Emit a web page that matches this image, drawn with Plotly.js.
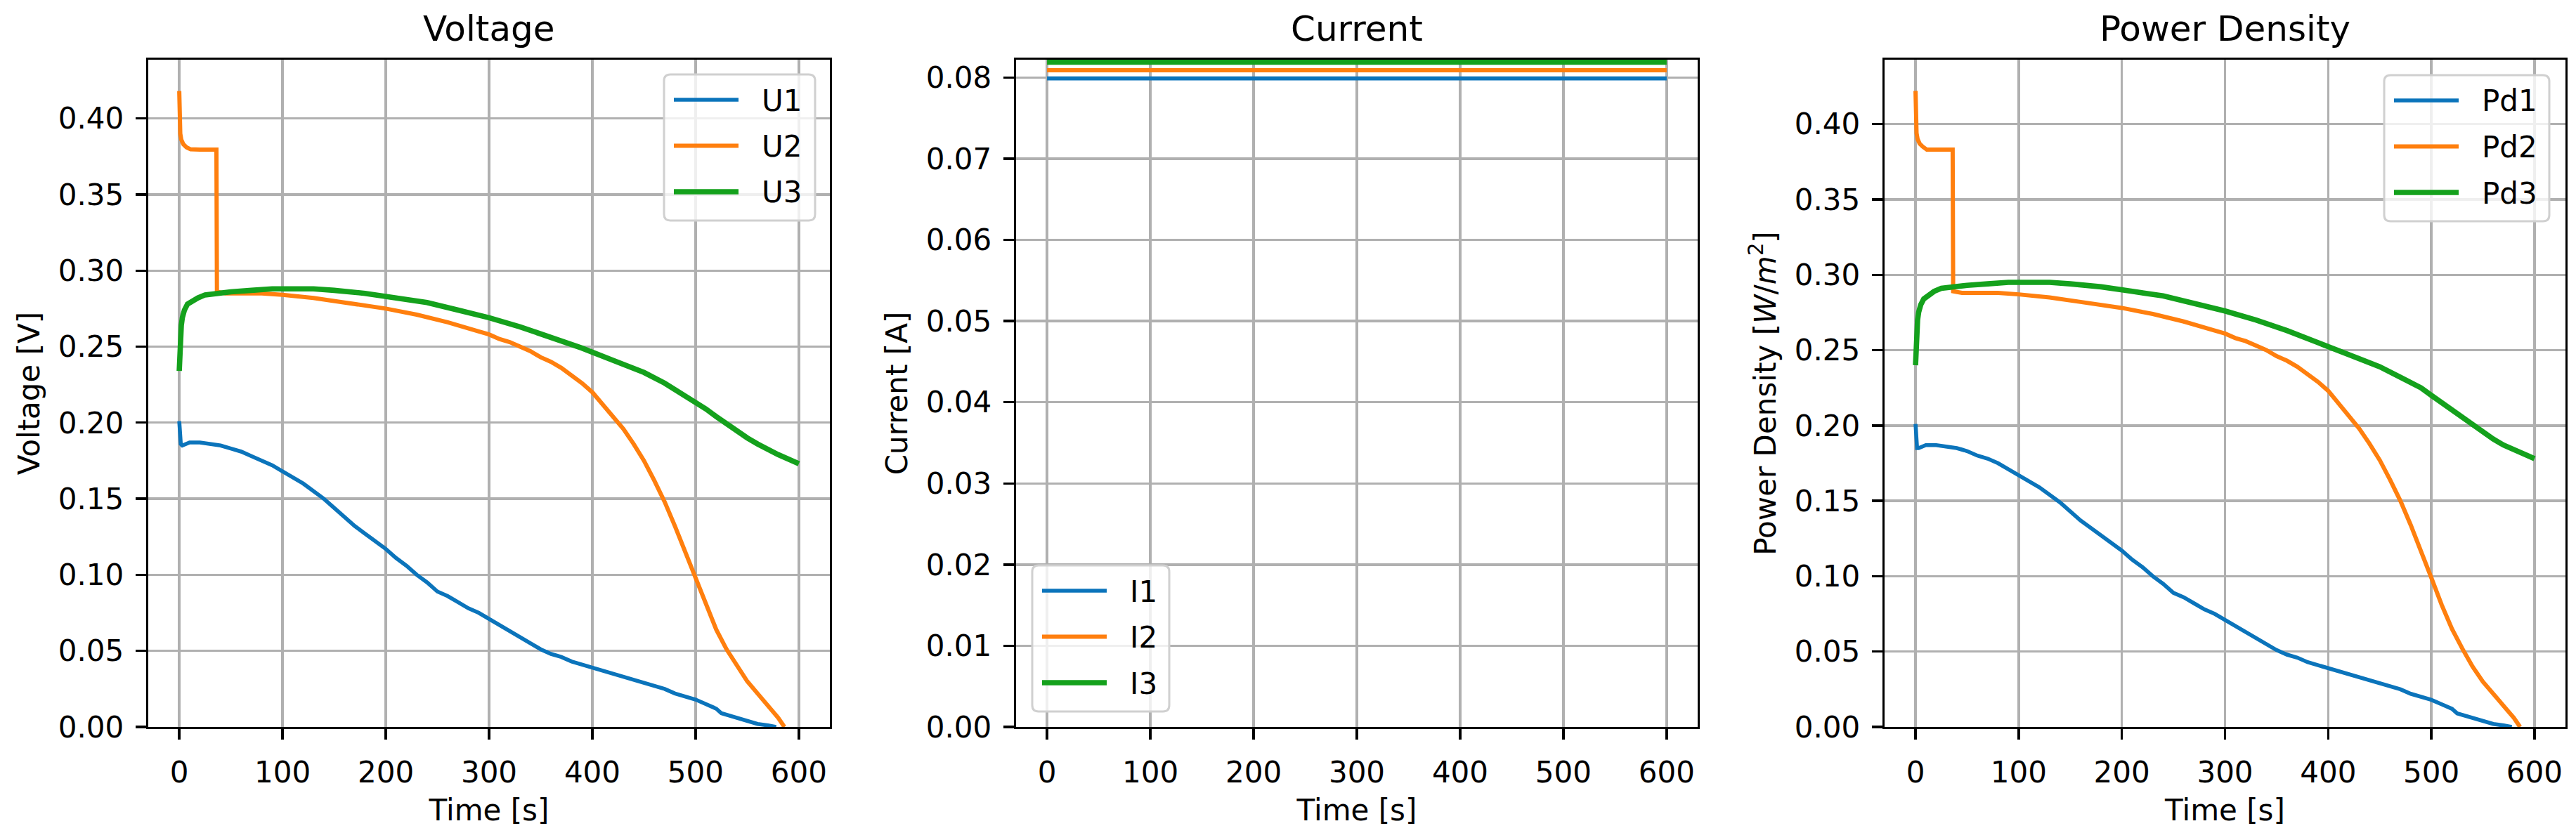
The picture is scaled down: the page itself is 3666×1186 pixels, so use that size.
<!DOCTYPE html>
<html>
<head>
<meta charset="utf-8">
<script src="https://cdn.plot.ly/plotly-3.0.1.min.js"></script>
<style>html,body{margin:0;padding:0;background:#fff;}#chart{width:3666px;height:1186px;}</style>
</head>
<body>
<div id="chart"></div>
<script>
// ---------------- data ----------------
const tU1 = [0, 0.5, 1.5, 3, 6, 10, 20, 30, 40, 50, 60, 70, 80, 90, 100, 110, 120, 130, 140, 150, 160, 170, 180, 190, 200, 210, 220, 230, 240, 250, 260, 270, 280, 290, 300, 310, 320, 330, 340, 350, 360, 370, 380, 390, 400, 410, 420, 430, 440, 450, 460, 470, 480, 490, 500, 510, 520, 525, 530, 540, 550, 560, 570, 578];
const U1  = [0.201, 0.195, 0.186, 0.185, 0.186, 0.187, 0.187, 0.186, 0.185, 0.183, 0.181, 0.178, 0.175, 0.172, 0.168, 0.164, 0.160, 0.155, 0.150, 0.144, 0.138, 0.132, 0.127, 0.122, 0.117, 0.111, 0.106, 0.100, 0.095, 0.089, 0.086, 0.082, 0.078, 0.075, 0.071, 0.067, 0.063, 0.059, 0.055, 0.051, 0.048, 0.046, 0.043, 0.041, 0.039, 0.037, 0.035, 0.033, 0.031, 0.029, 0.027, 0.025, 0.022, 0.020, 0.018, 0.015, 0.012, 0.009, 0.008, 0.006, 0.004, 0.002, 0.001, 0.000];

const tU2 = [0, 0.5, 1, 2, 4, 7, 11, 20, 36, 36.5, 45, 60, 80, 100, 130, 160, 200, 230, 260, 290, 300, 310, 320, 330, 340, 350, 360, 370, 380, 390, 400, 410, 420, 430, 440, 450, 460, 470, 480, 490, 500, 510, 520, 530, 540, 550, 560, 570, 580, 586];
const U2  = [0.418, 0.395, 0.390, 0.386, 0.383, 0.381, 0.3797, 0.3795, 0.3795, 0.286, 0.285, 0.285, 0.285, 0.284, 0.282, 0.279, 0.275, 0.271, 0.266, 0.260, 0.258, 0.255, 0.253, 0.250, 0.247, 0.243, 0.240, 0.236, 0.231, 0.226, 0.220, 0.212, 0.204, 0.196, 0.186, 0.175, 0.162, 0.148, 0.132, 0.115, 0.098, 0.080, 0.064, 0.051, 0.040, 0.030, 0.022, 0.014, 0.006, 0.000];

const tU3 = [0, 0.5, 1, 2, 3, 5, 8, 12, 18, 25, 35, 50, 70, 90, 110, 130, 150, 180, 210, 240, 270, 300, 330, 360, 390, 420, 450, 470, 490, 500, 510, 520, 530, 540, 550, 560, 570, 580, 590, 600];
const U3  = [0.234, 0.248, 0.256, 0.264, 0.269, 0.274, 0.278, 0.280, 0.282, 0.284, 0.285, 0.286, 0.287, 0.288, 0.288, 0.288, 0.287, 0.285, 0.282, 0.279, 0.274, 0.269, 0.263, 0.256, 0.249, 0.241, 0.233, 0.226, 0.218, 0.214, 0.209, 0.204, 0.199, 0.194, 0.190, 0.186, 0.182, 0.179, 0.176, 0.173];

const tI = [0, 100, 200, 300, 400, 500, 600];
const I1 = [0.0799, 0.0799, 0.0799, 0.0799, 0.0799, 0.0799, 0.0799];
const I2 = [0.0809, 0.0809, 0.0809, 0.0809, 0.0809, 0.0809, 0.0809];
const I3 = [0.0819, 0.0819, 0.0819, 0.0819, 0.0819, 0.0819, 0.0819];

const tP1 = [0, 0.5, 1.5, 3, 6, 10, 20, 30, 40, 50, 60, 70, 80, 90, 100, 110, 120, 130, 140, 150, 160, 170, 180, 190, 200, 210, 220, 230, 240, 250, 260, 270, 280, 290, 300, 310, 320, 330, 340, 350, 360, 370, 380, 390, 400, 410, 420, 430, 440, 450, 460, 470, 480, 490, 500, 510, 520, 525, 530, 540, 550, 560, 570, 578];
const Pd1 = [0.201, 0.194, 0.185, 0.185, 0.186, 0.187, 0.187, 0.186, 0.185, 0.183, 0.180, 0.178, 0.175, 0.171, 0.167, 0.163, 0.159, 0.154, 0.149, 0.143, 0.137, 0.132, 0.127, 0.122, 0.117, 0.111, 0.106, 0.100, 0.095, 0.089, 0.086, 0.082, 0.078, 0.075, 0.071, 0.067, 0.063, 0.059, 0.055, 0.051, 0.048, 0.046, 0.043, 0.041, 0.039, 0.037, 0.035, 0.033, 0.031, 0.029, 0.027, 0.025, 0.022, 0.020, 0.018, 0.015, 0.012, 0.009, 0.008, 0.006, 0.004, 0.002, 0.001, 0.000];

const tP2 = [0, 0.5, 1, 2, 4, 7, 11, 20, 36, 36.5, 45, 60, 80, 100, 130, 160, 200, 230, 260, 290, 300, 310, 320, 330, 340, 350, 360, 370, 380, 390, 400, 410, 420, 430, 440, 450, 460, 470, 480, 490, 500, 510, 520, 530, 540, 550, 560, 570, 580, 586];
const Pd2 = [0.422, 0.400, 0.394, 0.390, 0.387, 0.385, 0.383, 0.383, 0.383, 0.289, 0.288, 0.288, 0.288, 0.287, 0.285, 0.282, 0.278, 0.274, 0.269, 0.263, 0.261, 0.258, 0.256, 0.253, 0.250, 0.246, 0.243, 0.239, 0.234, 0.229, 0.223, 0.215, 0.207, 0.198, 0.188, 0.177, 0.164, 0.150, 0.134, 0.117, 0.099, 0.081, 0.065, 0.052, 0.040, 0.030, 0.022, 0.014, 0.006, 0.000];

const tP3 = [0, 0.5, 1, 2, 3, 5, 8, 12, 18, 25, 35, 50, 70, 90, 110, 130, 150, 180, 210, 240, 270, 300, 330, 360, 390, 420, 450, 470, 490, 500, 510, 520, 530, 540, 550, 560, 570, 580, 590, 600];
const Pd3 = [0.240, 0.254, 0.262, 0.270, 0.275, 0.280, 0.284, 0.286, 0.289, 0.291, 0.292, 0.293, 0.294, 0.295, 0.295, 0.295, 0.294, 0.292, 0.289, 0.286, 0.281, 0.276, 0.270, 0.263, 0.255, 0.247, 0.239, 0.232, 0.225, 0.220, 0.215, 0.210, 0.205, 0.200, 0.195, 0.191, 0.187, 0.184, 0.181, 0.178];

const panelTitles = ['Voltage', 'Current', 'Power Density'];
const seriesNames = [['U1', 'U2', 'U3'], ['I1', 'I2', 'I3'], ['Pd1', 'Pd2', 'Pd3']];
const xTitle = 'Time [s]';
const yTitles = ['Voltage [V]', 'Current [A]', 'Power Density [<i>W</i>/<i>m</i><sup>2</sup>]'];

// ---------------- styling / layout ----------------
const W = 3666, H = 1186;
const FONT = 'DejaVu Sans, Verdana, sans-serif';
const C = ['#0b74bb', '#ff7f0e', '#14a11c'];
const LW = [5.6, 6.0, 7.6];
const frames = [[211, 1181], [1446, 2416], [2682, 3651]]; // px left/right of each axes box
const boxTop = 85, boxBottom = 1035;
const yRanges = [[0, 0.4386], [0, 0.0822], [0, 0.4427]];
const yDticks = [0.05, 0.01, 0.05];
// legend boxes: [left, top, width] in px
const legendBoxes = [[945, 106, 215], [1469, 805, 195], [3393, 107, 235]];

function mkLine(x, y, name, i, ax) {
  return {x: x, y: y, name: name, type: 'scatter', mode: 'lines',
    xaxis: 'x' + (ax === 1 ? '' : ax), yaxis: 'y' + (ax === 1 ? '' : ax),
    showlegend: false, line: {color: C[i], width: LW[i]}};
}

const traces = [
  mkLine(tU1, U1, seriesNames[0][0], 0, 1),
  mkLine(tU2, U2, seriesNames[0][1], 1, 1),
  mkLine(tU3, U3, seriesNames[0][2], 2, 1),
  mkLine(tI, I1, seriesNames[1][0], 0, 2),
  mkLine(tI, I2, seriesNames[1][1], 1, 2),
  mkLine(tI, I3, seriesNames[1][2], 2, 2),
  mkLine(tP1, Pd1, seriesNames[2][0], 0, 3),
  mkLine(tP2, Pd2, seriesNames[2][1], 1, 3),
  mkLine(tP3, Pd3, seriesNames[2][2], 2, 3)
];

const tickFont = {family: FONT, size: 42, color: '#000'};
const common = {
  ticks: 'outside', ticklen: 15, tickwidth: 3.4, tickcolor: '#000',
  showline: true, mirror: true, linecolor: '#000', linewidth: 3.4,
  showgrid: true, gridcolor: '#b0b0b0', gridwidth: 3.4, zeroline: false,
  tickfont: tickFont, automargin: false, fixedrange: true
};

const layout = {
  width: W, height: H,
  margin: {l: 0, r: 0, t: 0, b: 0, pad: 0},
  paper_bgcolor: '#fff', plot_bgcolor: '#fff',
  font: {family: FONT, color: '#000'},
  showlegend: false,
  annotations: [],
  shapes: []
};

const PX = v => v / W;          // px -> paper x
const PY = v => 1 - v / H;      // px -> paper y

function roundedBox(l, t, w, h, r) {
  const x0 = l, x1 = l + w, y0 = t, y1 = t + h;
  const p = (x, y) => PX(x).toFixed(6) + ',' + PY(y).toFixed(6);
  return 'M' + p(x0 + r, y0) + ' L' + p(x1 - r, y0) + ' Q' + p(x1, y0) + ' ' + p(x1, y0 + r) +
    ' L' + p(x1, y1 - r) + ' Q' + p(x1, y1) + ' ' + p(x1 - r, y1) +
    ' L' + p(x0 + r, y1) + ' Q' + p(x0, y1) + ' ' + p(x0, y1 - r) +
    ' L' + p(x0, y0 + r) + ' Q' + p(x0, y0) + ' ' + p(x0 + r, y0) + ' Z';
}

for (let k = 0; k < 3; k++) {
  const s = k === 0 ? '' : String(k + 1);
  layout['xaxis' + s] = Object.assign({}, common, {
    domain: [frames[k][0] / W, frames[k][1] / W], anchor: 'y' + s,
    range: [-30, 630], tick0: 0, dtick: 100, ticklabelstandoff: 10,
    title: {text: xTitle, font: {family: FONT, size: 42, color: '#000'}, standoff: 17}
  });
  layout['yaxis' + s] = Object.assign({}, common, {
    domain: [1 - boxBottom / H, 1 - boxTop / H], anchor: 'x' + s,
    range: yRanges[k], tick0: 0, dtick: yDticks[k], tickformat: '.2f', ticklabelstandoff: 8,
    title: {text: yTitles[k], font: {family: FONT, size: 42, color: '#000'}, standoff: 14}
  });
  layout.annotations.push({
    text: panelTitles[k], xref: 'paper', yref: 'paper',
    x: (frames[k][0] + frames[k][1]) / 2 / W, y: 1 - 72 / H,
    xanchor: 'center', yanchor: 'bottom', showarrow: false,
    font: {family: FONT, size: 50, color: '#000'}
  });

  // legend (matplotlib-style: rounded translucent box, long handles)
  const [bl, bt, bw] = legendBoxes[k];
  const bh = 208;
  layout.shapes.push({
    type: 'path', xref: 'paper', yref: 'paper', layer: 'above',
    path: roundedBox(bl, bt, bw, bh, 9),
    fillcolor: 'rgba(255,255,255,0.8)', line: {color: '#d0d0d0', width: 3}
  });
  for (let i = 0; i < 3; i++) {
    const ry = bt + 36 + 65.5 * i;
    layout.shapes.push({
      type: 'line', xref: 'paper', yref: 'paper', layer: 'above',
      x0: PX(bl + 14), x1: PX(bl + 106), y0: PY(ry), y1: PY(ry),
      line: {color: C[i], width: LW[i]}
    });
    layout.annotations.push({
      text: seriesNames[k][i], xref: 'paper', yref: 'paper',
      x: PX(bl + 137), y: PY(ry + 1), xanchor: 'left', yanchor: 'middle', showarrow: false,
      font: {family: FONT, size: 42, color: '#000'}
    });
  }
}

Plotly.newPlot('chart', traces, layout, {staticPlot: true, displayModeBar: false});
</script>
</body>
</html>
